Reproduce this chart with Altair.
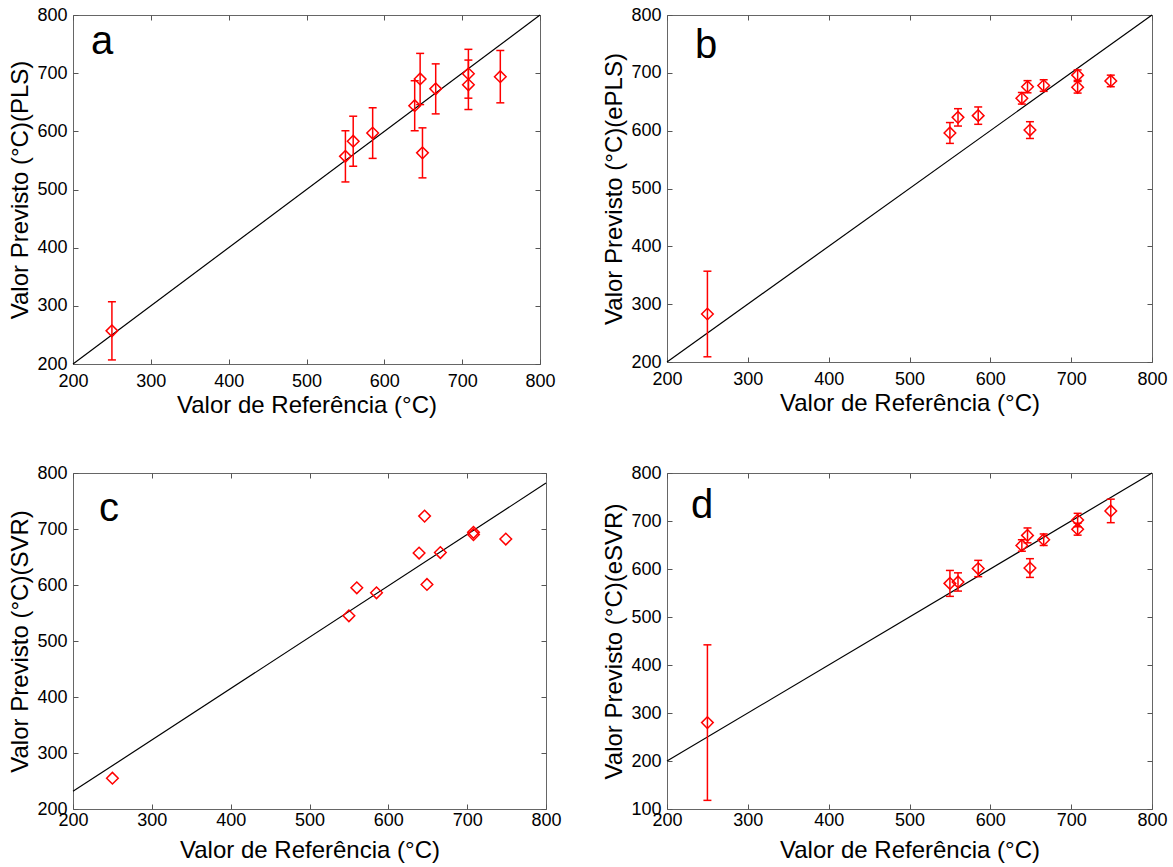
import altair as alt
import pandas as pd

# ---- data ----
ref_x = [250, 550, 560, 585, 639, 646, 649, 666, 708, 708, 749]

pls_y = [257, 557, 583, 597, 644, 690, 563, 673, 699, 680, 694]
pls_err = [50, 44, 43, 43.5, 43, 44, 43, 43, 42, 42.5, 45]

epls_y = [283, 596, 623, 626, 656, 676, 601, 678, 696, 675, 686]
epls_err = [74, 18, 15, 15, 10, 10.5, 14.5, 10, 9, 10, 10]

svr_y = [255, 545, 595, 586, 657, 723, 601, 658, 694, 690, 682]

esvr_y = [280, 570, 573, 601, 649, 670, 602, 661, 702, 683, 721]
esvr_err = [162, 27, 19, 17, 12, 15.5, 19.5, 12, 14, 12.5, 24.5]

line_x = [200, 800]
ideal_y = [200, 800]
svr_fit_y = [231.5, 782]

x_ticks = [200, 300, 400, 500, 600, 700, 800]
y_ticks = [200, 300, 400, 500, 600, 700, 800]
y_ticks_d = [100, 200, 300, 400, 500, 600, 700, 800]

x_title = "Valor de Referência (°C)"
FONT = "Liberation Sans"
TICKC = "#555555"


def panel(pred, err, letter, ytitle, ydomain, yvalues, line_y, w, h, lpos,
          xlab_pad, xtitle_pad):
    df = pd.DataFrame({"ref": ref_x, "pred": pred})
    if err is not None:
        df["lo"] = [p - e for p, e in zip(pred, err)]
        df["hi"] = [p + e for p, e in zip(pred, err)]
    ldf = pd.DataFrame({"ref": line_x, "pred": line_y})

    xs = alt.Scale(domain=[200, 800], nice=False, zero=False)
    ys = alt.Scale(domain=ydomain, nice=False, zero=False)
    xaxis = alt.Axis(values=x_ticks, offset=-5, tickSize=5, labelPadding=xlab_pad,
                     titlePadding=xtitle_pad, title=x_title, domain=False, grid=False,
                     labelFlush=False, labelOverlap=False)
    yaxis = alt.Axis(values=yvalues, offset=-5, tickSize=5, labelPadding=6,
                     titlePadding=4, title=ytitle, domain=False, grid=False,
                     labelFlush=False, labelOverlap=False)
    X = alt.X("ref:Q", scale=xs, axis=xaxis)

    layers = [
        alt.Chart(ldf).mark_line(color="black", strokeWidth=1.2).encode(
            x=X, y=alt.Y("pred:Q", scale=ys, axis=yaxis))
    ]
    if err is not None:
        layers += [
            alt.Chart(df).mark_rule(color="#ff0000", strokeWidth=1.5).encode(
                x=X, y=alt.Y("lo:Q", scale=ys, axis=yaxis), y2="hi:Q"),
            alt.Chart(df).mark_tick(orient="horizontal", size=8, thickness=1.5,
                                    color="#ff0000", opacity=1).encode(
                x=X, y=alt.Y("lo:Q", scale=ys, axis=yaxis)),
            alt.Chart(df).mark_tick(orient="horizontal", size=8, thickness=1.5,
                                    color="#ff0000", opacity=1).encode(
                x=X, y=alt.Y("hi:Q", scale=ys, axis=yaxis)),
        ]
    layers += [
        alt.Chart(df).mark_point(shape="diamond", filled=False, color="#ff0000",
                                 size=135, strokeWidth=1.5, opacity=1).encode(
            x=X, y=alt.Y("pred:Q", scale=ys, axis=yaxis)),
        alt.Chart(pd.DataFrame({"t": [letter]})).mark_text(
            fontSize=40, align="left", baseline="alphabetic", font=FONT,
            color="black").encode(
            text="t:N", x=alt.value(lpos[0]), y=alt.value(lpos[1])),
    ]
    main = alt.layer(*layers)

    frame = alt.Chart(df).mark_point(opacity=0).encode(
        x=alt.X("ref:Q", scale=xs,
                axis=alt.Axis(orient="top", values=x_ticks, offset=-5, tickSize=5,
                              labels=False, domain=False, grid=False, title=None)),
        y=alt.Y("pred:Q", scale=ys,
                axis=alt.Axis(orient="right", values=yvalues, offset=-5, tickSize=5,
                              labels=False, domain=False, grid=False, title=None)),
    )
    return alt.layer(main, frame).resolve_scale(
        x="independent", y="independent").properties(width=w, height=h)


a = panel(pls_y, pls_err, "a", "Valor Previsto (°C)(PLS)", [200, 800], y_ticks,
          ideal_y, 467, 349, (18, 39), 8, 3)
b = panel(epls_y, epls_err, "b", "Valor Previsto (°C)(ePLS)", [200, 800], y_ticks,
          ideal_y, 485, 347, (28, 43), 8, 3)
c = panel(svr_y, None, "c", "Valor Previsto (°C)(SVR)", [200, 800], y_ticks,
          svr_fit_y, 473, 336, (26, 48), 2, 9)
d = panel(esvr_y, esvr_err, "d", "Valor Previsto (°C)(eSVR)", [100, 800], y_ticks_d,
          ideal_y, 485, 336, (24, 45), 2, 9)

row1 = alt.hconcat(a, b, spacing=46)
row2 = alt.hconcat(c, d, spacing=40)

chart = alt.vconcat(row1, row2, spacing=45).properties(
    padding={"left": 8, "top": 5, "right": 0, "bottom": 0}
).configure_view(
    stroke="#666666", strokeWidth=1
).configure_axis(
    labelFont=FONT, titleFont=FONT, labelFontSize=18, titleFontSize=24,
    labelColor="black", titleColor="black", titleFontWeight="normal",
    tickColor=TICKC, tickWidth=1
).configure_text(font=FONT)

chart.save("out.html", embed_options={"renderer": "svg", "actions": False})
